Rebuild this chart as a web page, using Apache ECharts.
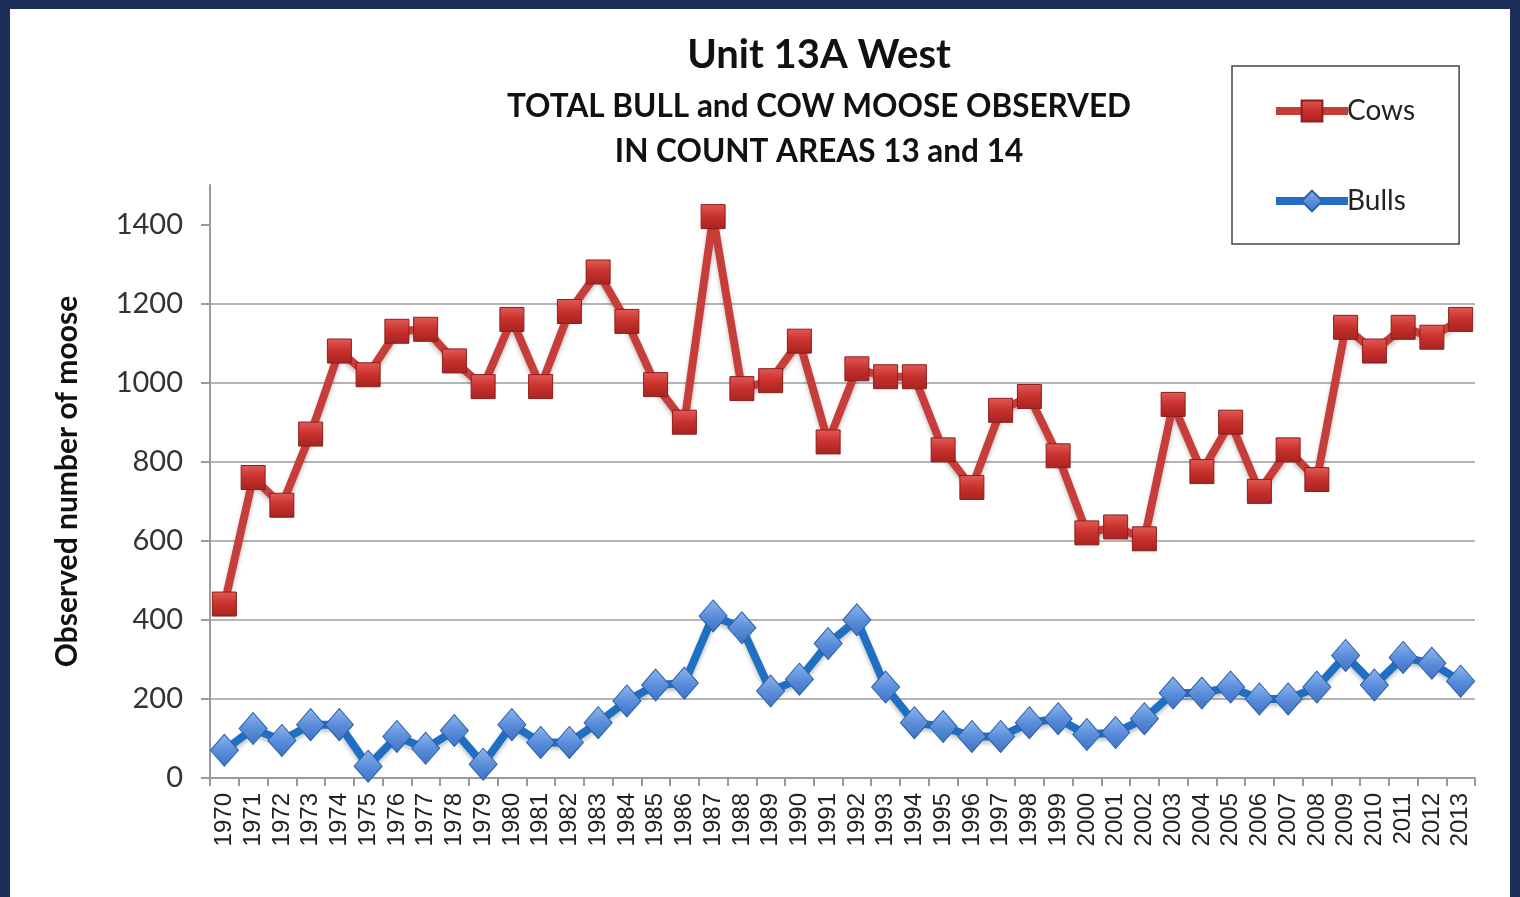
<!DOCTYPE html>
<html>
<head>
<meta charset="utf-8">
<script src="https://cdn.jsdelivr.net/npm/echarts@6/dist/echarts.min.js"></script>
<style>
html,body{margin:0;padding:0;width:1520px;height:897px;overflow:hidden;background:#1c2f5a;}
#paper{position:absolute;left:10px;top:9px;right:10px;bottom:0;background:#ffffff;}
#chart{position:absolute;left:0;top:0;width:1520px;height:897px;}
</style>
</head>
<body>
<div id="paper"></div>
<div id="chart"></div>
<script>
const years = ['1970','1971','1972','1973','1974','1975','1976','1977','1978','1979','1980','1981','1982','1983','1984','1985','1986','1987','1988','1989','1990','1991','1992','1993','1994','1995','1996','1997','1998','1999','2000','2001','2002','2003','2004','2005','2006','2007','2008','2009','2010','2011','2012','2013'];
const cows = [440,760,690,870,1080,1020,1130,1135,1055,990,1160,990,1180,1280,1155,995,900,1420,985,1005,1105,850,1035,1015,1015,830,735,930,965,815,620,635,605,945,775,900,725,830,755,1140,1080,1140,1115,1160];
const bulls = [70,125,95,135,135,30,105,75,120,35,135,90,90,140,195,235,240,410,380,220,250,340,400,230,140,130,105,105,140,150,110,115,150,215,215,230,200,200,230,310,235,305,290,245];
const yTicks = [0,200,400,600,800,1000,1200,1400];
const titleText = 'Unit 13A West';
const subText = 'TOTAL BULL and COW MOOSE OBSERVED\nIN COUNT AREAS 13 and 14';
const yName = 'Observed number of moose';

const chart = echarts.init(document.getElementById('chart'));
const cowMarker = {
  type: 'linear', x: 0, y: 0, x2: 0, y2: 1,
  colorStops: [{offset: 0, color: '#e25a55'}, {offset: 0.5, color: '#c8302c'}, {offset: 1, color: '#a52421'}]
};
const bullMarker = {
  type: 'linear', x: 0, y: 0, x2: 0, y2: 1,
  colorStops: [{offset: 0, color: '#8fb6ee'}, {offset: 0.5, color: '#5b8fdb'}, {offset: 1, color: '#3e72c4'}]
};
chart.setOption({
  animation: false,
  backgroundColor: 'transparent',
  title: {
    text: titleText,
    subtext: subText,
    left: 814, top: 30, textAlign: 'center',
    itemGap: 9,
    textStyle: {fontFamily: 'Lato', fontWeight: 'bold', fontSize: 40, color: '#111'},
    subtextStyle: {fontFamily: 'Lato', fontWeight: 'bold', fontSize: 31.5, color: '#111', lineHeight: 45}
  },
  legend: {
    orient: 'vertical',
    left: 1232, top: 66,
    padding: [31, 44, 29, 40],
    itemGap: 62,
    itemWidth: 72, itemHeight: 26,
    borderColor: '#444', borderWidth: 1.5,
    backgroundColor: '#fff',
    textStyle: {fontFamily: 'Lato', fontSize: 28, color: '#222', padding: [0, 0, 0, -6]},
    data: [
      {name: 'Cows', lineStyle: {width: 8, color: '#c63d3a'}},
      {name: 'Bulls', lineStyle: {width: 8, color: '#1f6fc2'}}
    ]
  },
  grid: {left: 210, right: 45, top: 185, bottom: 119, containLabel: false},
  xAxis: {
    type: 'category',
    data: years,
    boundaryGap: true,
    axisLine: {lineStyle: {color: '#9a9a9a', width: 2}},
    axisTick: {show: true, alignWithLabel: false, length: 8, lineStyle: {color: '#9a9a9a', width: 2}},
    axisLabel: {interval: 0, rotate: 90, margin: 15, fontFamily: 'Liberation Sans', fontSize: 24, color: '#222'},
    splitLine: {show: false}
  },
  yAxis: {
    type: 'value',
    min: 0, max: 1500, interval: 100,
    name: yName,
    nameLocation: 'middle',
    nameGap: 128,
    nameTextStyle: {fontFamily: 'Lato', fontWeight: 'bold', fontSize: 30, color: '#111'},
    axisLine: {show: true, lineStyle: {color: '#9a9a9a', width: 2}},
    axisTick: {show: true, length: 9, customValues: yTicks, lineStyle: {color: '#9a9a9a', width: 2}},
    axisLabel: {margin: 27, fontFamily: 'Lato', fontSize: 29, color: '#333', customValues: yTicks, formatter: v => String(v)},
    splitLine: {show: true, showMaxLine: false, lineStyle: {color: '#b5b5b5', width: 2}}
  },
  series: [
    {
      name: 'Cows', type: 'line', data: cows,
      symbol: 'rect', symbolSize: 24,
      lineStyle: {color: '#c63d3a', width: 8, shadowColor: 'rgba(0,0,0,0.25)', shadowBlur: 4, shadowOffsetY: 3},
      itemStyle: {color: cowMarker, borderColor: '#8e1d1b', borderWidth: 1}
    },
    {
      name: 'Bulls', type: 'line', data: bulls,
      symbol: 'diamond', symbolSize: [28, 32],
      lineStyle: {color: '#1f6fc2', width: 8, shadowColor: 'rgba(0,0,0,0.25)', shadowBlur: 4, shadowOffsetY: 3},
      itemStyle: {color: bullMarker, borderColor: '#2c5fa8', borderWidth: 1}
    }
  ]
});
</script>
</body>
</html>
